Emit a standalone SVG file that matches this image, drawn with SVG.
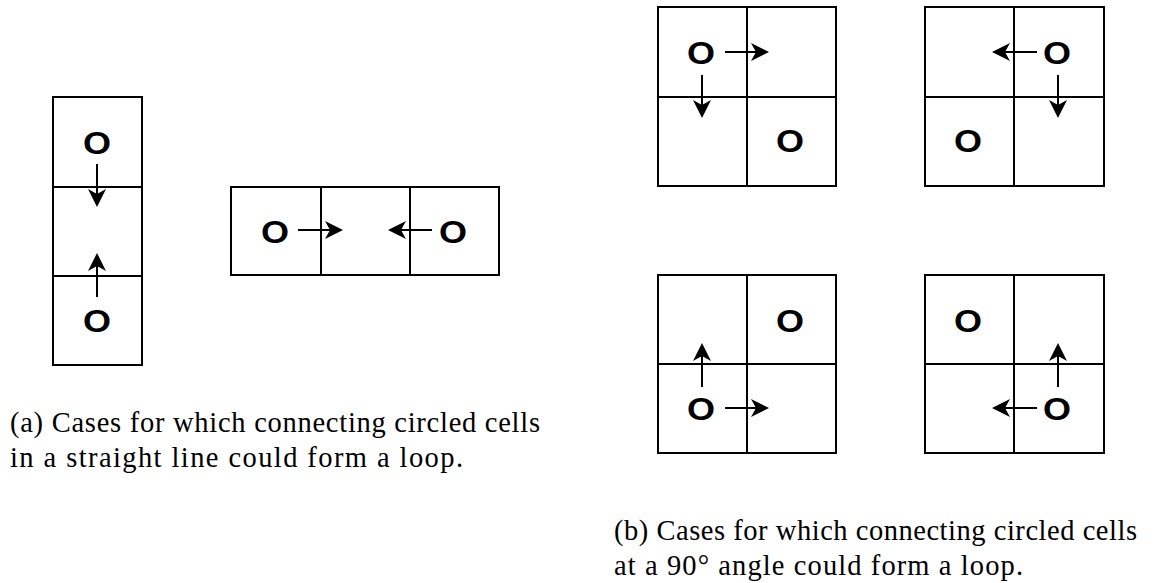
<svg xmlns="http://www.w3.org/2000/svg" width="1156" height="583" viewBox="0 0 1156 583">
<style>
.grid{fill:none;stroke:#000;stroke-width:2}
.o{font-family:"Liberation Sans",Arial,sans-serif;font-weight:bold;font-size:32px;fill:#000;text-anchor:middle}
.arr{stroke:#000;stroke-width:2;fill:none;marker-end:url(#ah)}
.cap{font-family:"Liberation Serif","Times New Roman",serif;font-size:28.5px;fill:#000}
</style>
<defs>
<marker id="ah" markerUnits="userSpaceOnUse" viewBox="-6 -10 20 20" markerWidth="20" markerHeight="20" refX="0" refY="0" orient="auto" overflow="visible">
<path d="M13,0 L-5,-9 L0,0 L-5,9 Z" fill="#000"/>
</marker>
</defs>
<rect width="1156" height="583" fill="#fff"/>

<g id="a-vertical">
<rect class="grid" x="53" y="97" width="89" height="268"/>
<path class="grid" d="M53,187 H142 M53,276 H142"/>
<text class="o" x="97" y="154" textLength="28" lengthAdjust="spacingAndGlyphs">O</text>
<text class="o" x="97" y="332" textLength="28" lengthAdjust="spacingAndGlyphs">O</text>
</g>

<g id="a-horizontal">
<rect class="grid" x="231" y="187" width="268" height="88"/>
<path class="grid" d="M321,187 V275 M410,187 V275"/>
<text class="o" x="275" y="243" textLength="28" lengthAdjust="spacingAndGlyphs">O</text>
<text class="o" x="453" y="243" textLength="28" lengthAdjust="spacingAndGlyphs">O</text>
</g>

<g id="b-topleft">
<rect class="grid" x="658" y="7" width="178" height="179"/>
<path class="grid" d="M747,7 V186 M658,97 H836"/>
<text class="o" x="701" y="64" textLength="28" lengthAdjust="spacingAndGlyphs">O</text>
<text class="o" x="790" y="152" textLength="28" lengthAdjust="spacingAndGlyphs">O</text>
</g>

<g id="b-topright">
<rect class="grid" x="925" y="7" width="179" height="179"/>
<path class="grid" d="M1014,7 V186 M925,97 H1104"/>
<text class="o" x="1057" y="64" textLength="28" lengthAdjust="spacingAndGlyphs">O</text>
<text class="o" x="968" y="152" textLength="28" lengthAdjust="spacingAndGlyphs">O</text>
</g>

<g id="b-bottomleft">
<rect class="grid" x="658" y="275" width="178" height="178"/>
<path class="grid" d="M747,275 V453 M658,364 H836"/>
<text class="o" x="790" y="332" textLength="28" lengthAdjust="spacingAndGlyphs">O</text>
<text class="o" x="701" y="420" textLength="28" lengthAdjust="spacingAndGlyphs">O</text>
</g>

<g id="b-bottomright">
<rect class="grid" x="925" y="275" width="179" height="178"/>
<path class="grid" d="M1014,275 V453 M925,364 H1104"/>
<text class="o" x="968" y="332" textLength="28" lengthAdjust="spacingAndGlyphs">O</text>
<text class="o" x="1057" y="420" textLength="28" lengthAdjust="spacingAndGlyphs">O</text>
</g>

<g id="connectors">
<path class="arr" d="M97,164 V194"/>
<path class="arr" d="M97,297 V266"/>
<path class="arr" d="M298,230 H330"/>
<path class="arr" d="M432,230 H401"/>
<path class="arr" d="M725,52 H756"/>
<path class="arr" d="M702,75 V105"/>
<path class="arr" d="M1037,52 H1005"/>
<path class="arr" d="M1058,75 V105"/>
<path class="arr" d="M702,387 V356"/>
<path class="arr" d="M725,408 H756"/>
<path class="arr" d="M1058,387 V356"/>
<path class="arr" d="M1037,408 H1005"/>
</g>

<g id="captions">
<text class="cap" x="10" y="432" textLength="530" lengthAdjust="spacing">(a) Cases for which connecting circled cells</text>
<text class="cap" x="10" y="467" textLength="453" lengthAdjust="spacing">in a straight line could form a loop.</text>
<text class="cap" x="614" y="540" textLength="523" lengthAdjust="spacing">(b) Cases for which connecting circled cells</text>
<text class="cap" x="614" y="575" textLength="409" lengthAdjust="spacing">at a 90° angle could form a loop.</text>
</g>
</svg>
